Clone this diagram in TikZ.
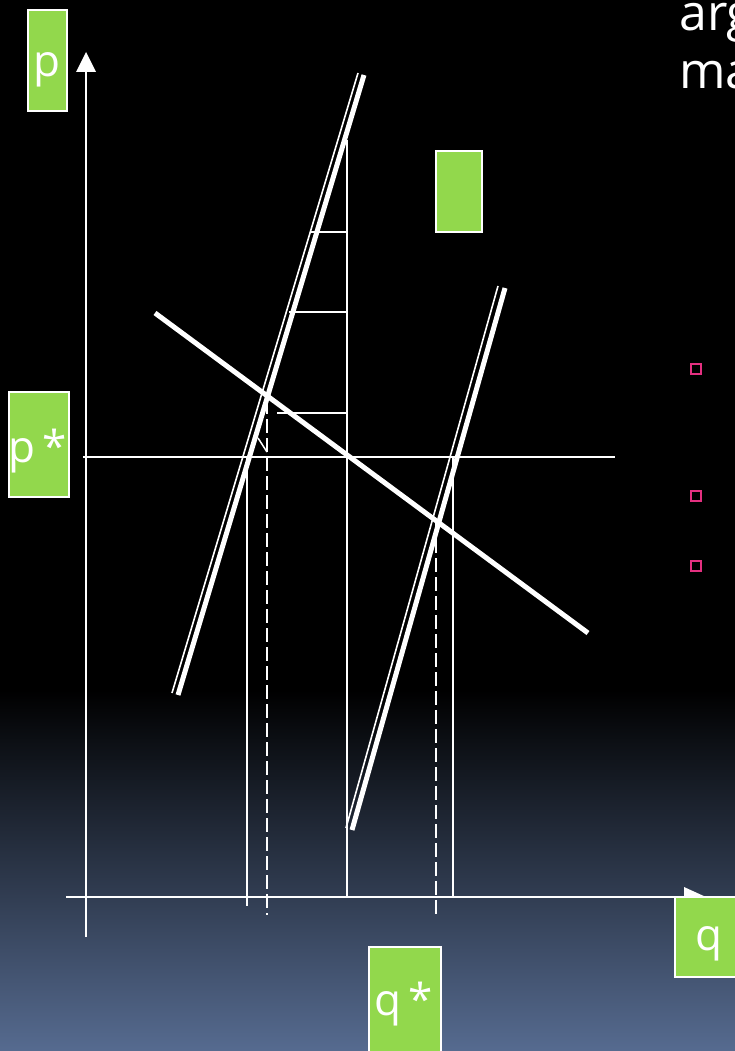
\documentclass[tikz,border=0pt]{standalone}
\usepackage{fontspec}
\setmainfont{Open Sans}
\definecolor{lgreen}{RGB}{146,216,76}
\definecolor{pinkm}{RGB}{228,48,128}
\definecolor{bottomblue}{RGB}{86,107,144}
\begin{document}
\begin{tikzpicture}[x=1pt,y=-1pt,
  box/.style={fill=lgreen,draw=white,line width=1.2pt,inner sep=0pt},
  lbl/.style={text=white,inner sep=0pt,anchor=base,font=\fontsize{44}{44}\selectfont},
  bigtxt/.style={text=white,inner sep=0pt,anchor=base west,font=\fontsize{50}{50}\selectfont},
  curve/.style={white,line width=5pt},
  thinline/.style={white,line width=1.6pt},
  axis/.style={white,line width=1.8pt},
  guide/.style={white,line width=1.5pt},
  dashguide/.style={guide,dash pattern=on 14pt off 5pt},
  bulletbox/.style={draw=pinkm,line width=1.5pt,minimum size=10pt,inner sep=0pt}]
\useasboundingbox (0,0) rectangle (735,1051);
\fill[black] (0,0) rectangle (735,1051);
\shade[top color=black,bottom color=bottomblue] (0,690) rectangle (735,1051.5);
\begin{scope}
\clip (0,0) rectangle (735,1051);
% coordinates
\coordinate (yb) at (86,937); \coordinate (yt) at (86,70);
\coordinate (xl) at (66,897); \coordinate (xr) at (690,897);
\coordinate (pl) at (83,457); \coordinate (pr) at (615,457);
\coordinate (v1t) at (347,140); \coordinate (v1b) at (347,897);
\coordinate (h1a) at (311,232); \coordinate (h1b) at (347,232);
\coordinate (h2a) at (289,312); \coordinate (h2b) at (347,312);
\coordinate (h3a) at (277,413); \coordinate (h3b) at (347,413);
\coordinate (v2t) at (247,457); \coordinate (v2b) at (247,906);
\coordinate (d1t) at (267,400); \coordinate (d1b) at (267,915);
\coordinate (tk1) at (258,438); \coordinate (tk2) at (267,452);
\coordinate (v3t) at (453,457); \coordinate (v3b) at (453,897);
\coordinate (d2t) at (436,520); \coordinate (d2b) at (436,917);
\coordinate (s1a) at (178,695); \coordinate (s1b) at (364,75);
\coordinate (t1a) at (172,693); \coordinate (t1b) at (358,73);
\coordinate (s2a) at (352,830); \coordinate (s2b) at (505,288);
\coordinate (t2a) at (346,828); \coordinate (t2b) at (498,286);
\coordinate (da) at (155,313); \coordinate (db) at (588,633);
% axes
\draw[axis] (yb) -- (yt);
\fill[white] (86,52) -- (96,72) -- (76,72) -- cycle;
\draw[axis] (xl) -- (xr);
\fill[white] (684,887) -- (706,897) -- (684,907) -- cycle;
% guides
\draw[guide] (pl) -- (pr);
\draw[guide] (v1t) -- (v1b);
\draw[guide] (h1a) -- (h1b);
\draw[guide] (h2a) -- (h2b);
\draw[guide] (h3a) -- (h3b);
\draw[guide] (v2t) -- (v2b);
\draw[dashguide] (d1t) -- (d1b);
\draw[guide] (tk1) -- (tk2);
\draw[guide] (v3t) -- (v3b);
\draw[dashguide] (d2t) -- (d2b);
% curves
\draw[thinline] (t1a) -- (t1b);
\draw[curve] (s1a) -- (s1b);
\draw[thinline] (t2a) -- (t2b);
\draw[curve] (s2a) -- (s2b);
\draw[curve] (da) -- (db);
% boxes
\node[box,minimum width=39pt,minimum height=101pt] (pbox) at (47.5,60.5) {};
\node[lbl] (ptxt) at (47,77) {p};
\node[box,minimum width=60pt,minimum height=105pt] (psbox) at (39,444.5) {};
\node[lbl] (pstxt) at (38,462) {p\,*};
\node[box,minimum width=46pt,minimum height=81pt] (ebox) at (459,191.5) {};
\node[box,minimum width=70pt,minimum height=80pt] (qbox) at (710,937) {};
\node[lbl] (qtxt) at (709,950) {q};
\node[box,minimum width=72pt,minimum height=116pt] (qsbox) at (405,1005) {};
\node[lbl] (qstxt) at (404,1015) {q\,*};
% text top right
\node[bigtxt] (arg) at (679,31) {arg};
\node[bigtxt] (ma) at (679,89) {ma};
% bullets
\node[bulletbox] (b1) at (696,369) {};
\node[bulletbox] (b2) at (696,496) {};
\node[bulletbox] (b3) at (696,566) {};
\end{scope}
\end{tikzpicture}
\end{document}
